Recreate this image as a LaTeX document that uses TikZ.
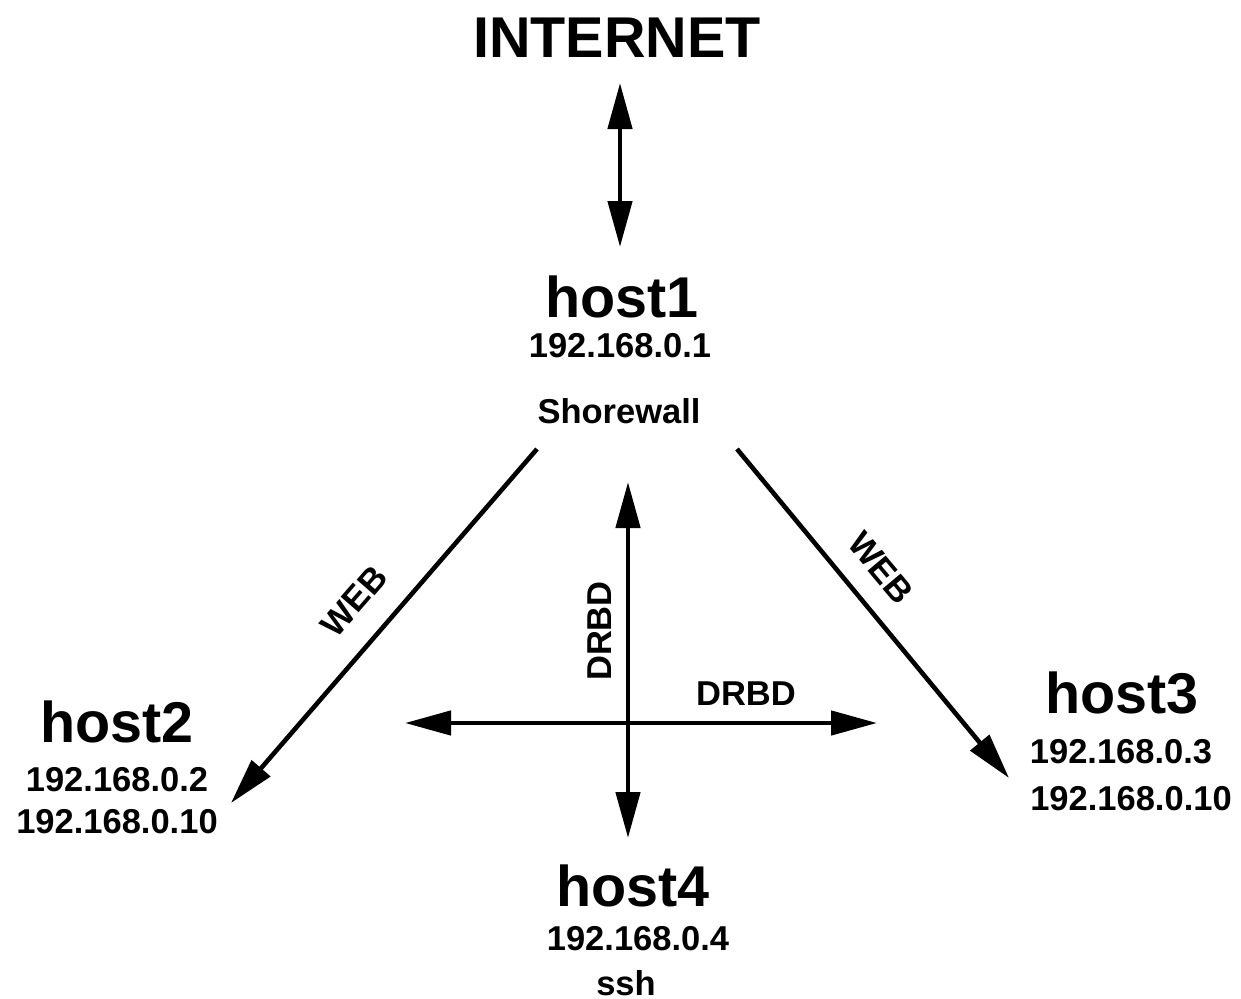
\documentclass[tikz,border=0pt]{standalone}
\usepackage{fontspec}
\setmainfont{Liberation Sans}
\usetikzlibrary{arrows.meta}
\begin{document}
\begin{tikzpicture}[x=1pt,y=-1pt,
  big/.style={font=\fontsize{57.5}{60}\selectfont\bfseries, inner sep=0pt, anchor=base},
  small/.style={font=\fontsize{34.5}{38}\selectfont\bfseries, inner sep=0pt, anchor=base},
  conn/.style={line width=4.6pt, -{Triangle[length=46pt,width=24pt]}},
  bconn/.style={line width=4.6pt, {Triangle[length=46pt,width=24pt]}-{Triangle[length=46pt,width=24pt]}}]
\useasboundingbox (0,0) rectangle (1241,998);
% texts
\node[big] (inet) at (617,58) {INTERNET};
\node[big] (h1) at (622,317) {host1};
\node[small] (h1ip) at (620,357) {192.168.0.1};
\node[small] (h1fw) at (619,423) {Shorewall};
\node[big] (h2) at (117,742) {host2};
\node[small] (h2ip) at (117,791) {192.168.0.2};
\node[small] (h2ipb) at (117,833) {192.168.0.10};
\node[big] (h3) at (1122,713) {host3};
\node[small] (h3ip) at (1121,763) {192.168.0.3};
\node[small] (h3ipb) at (1131,810) {192.168.0.10};
\node[big] (h4) at (633,906) {host4};
\node[small] (h4ip) at (638,950) {192.168.0.4};
\node[small] (h4ssh) at (626,995) {ssh};
% connector end points
\coordinate (inetT) at (620,83);
\coordinate (inetB) at (620,247);
\coordinate (h1L) at (537,449);
\coordinate (h2T) at (231,803);
\coordinate (h1R) at (737,449);
\coordinate (h3T) at (1009,778);
\coordinate (vT) at (628,482);
\coordinate (vB) at (628,838);
\coordinate (hL) at (405,723);
\coordinate (hR) at (877,723);
% connectors
\draw[bconn] (inetT) -- (inetB);
\draw[conn] (h1L) -- (h2T);
\draw[conn] (h1R) -- (h3T);
\draw[bconn] (vT) -- (vB);
\draw[bconn] (hL) -- (hR);
% labels
\node[small, anchor=center, rotate=49] (webL) at (354,601) {WEB};
\node[small, anchor=center, rotate=-50] (webR) at (881,568) {WEB};
\node[small, anchor=center, rotate=90] (drbdV) at (600,631) {DRBD};
\node[small] (drbdH) at (746,705) {DRBD};
\end{tikzpicture}
\end{document}
